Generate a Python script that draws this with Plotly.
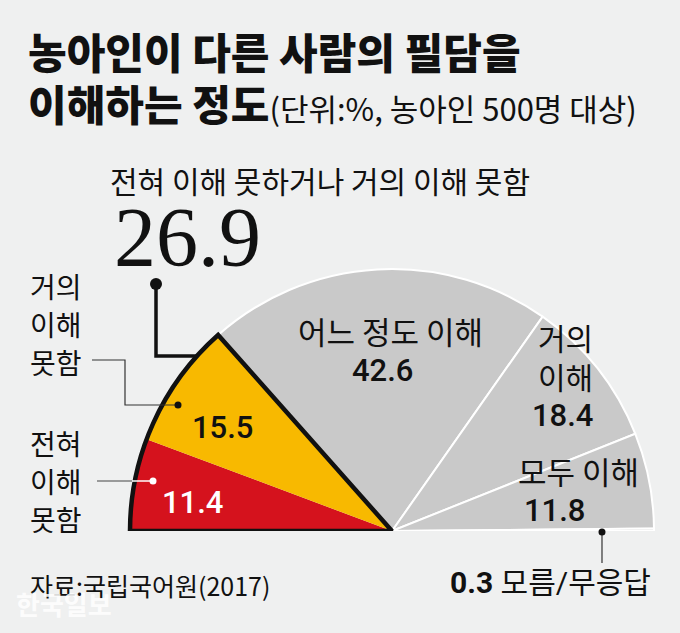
import plotly.graph_objects as go

# ---- data ----
categories = ["전혀 이해 못함", "거의 이해 못함", "어느 정도 이해", "거의 이해", "모두 이해", "모름/무응답"]
values = [11.4, 15.5, 42.6, 18.4, 11.8, 0.3]
group_label = "전혀 이해 못하거나 거의 이해 못함"
group_value = 26.9
title_1 = "농아인이 다른 사람의 필담을"
title_2 = "이해하는 정도"
unit_note = "(단위:%, 농아인 500명 대상)"
source = "자료:국립국어원(2017)"

# ---- style ----
W, H = 680, 633
BG = "#eff0f0"
slice_colors = ["#d5121d", "#f8b900", "#c9c9c9", "#c9c9c9", "#c9c9c9", "#c9c9c9"]
KR = "Noto Sans CJK KR"
NUM = "Roboto, Noto Sans CJK KR"


def px(x, y):
    return x / W, 1 - y / H


# half-pie geometry (percent -> degrees over 180)
scale = 180 / 100.0
starts = []
acc = 0.0
for v in values:
    starts.append(acc)
    acc += v
thetas = [(s + v / 2) * scale for s, v in zip(starts, values)]
widths = [v * scale for v in values]

fig = go.Figure()
for i, (c, v) in enumerate(zip(categories, values)):
    fig.add_trace(go.Barpolar(
        r=[1], theta=[thetas[i]], width=[widths[i]], base=0,
        marker=dict(color=slice_colors[i],
                    line=dict(color="white" if i >= 2 else slice_colors[i], width=2 if i >= 2 else 0)),
        name=c, showlegend=False, hoverinfo="skip",
    ))
# black outline around the combined "not understanding" wedge
grp = values[0] + values[1]
fig.add_trace(go.Barpolar(
    r=[1], theta=[grp * scale / 2], width=[grp * scale], base=0,
    marker=dict(color="rgba(0,0,0,0)", line=dict(color="#111", width=4.5)),
    showlegend=False, hoverinfo="skip",
))

RMAX = 1.02
cx, cy, R = 392, 531, 262
Rd = R * RMAX
d0 = px(cx - Rd, cy)
d1 = px(cx + Rd, cy - Rd)
fig.update_layout(
    width=W, height=H,
    margin=dict(l=0, r=0, t=0, b=0),
    paper_bgcolor=BG, plot_bgcolor=BG,
    showlegend=False,
    polar=dict(
        domain=dict(x=[d0[0], d1[0]], y=[d0[1], d1[1]]),
        sector=[0, 180], hole=0, bgcolor="rgba(0,0,0,0)",
        angularaxis=dict(rotation=180, direction="clockwise", visible=False,
                         showgrid=False, showline=False, showticklabels=False, ticks=""),
        radialaxis=dict(range=[0, RMAX], visible=False, showgrid=False,
                        showline=False, showticklabels=False, ticks=""),
    ),
)

ann = []


def text(t, x, y, size, color="#111", family=KR, xanchor="left", weight="normal"):
    X, Y = px(x, y)
    ann.append(dict(text=t, x=X, y=Y, xref="paper", yref="paper", xanchor=xanchor,
                    yanchor="middle", showarrow=False,
                    font=dict(size=size, color=color, family=family, weight=weight)))


# title
text(title_1, 26, 50, 42, weight=900)
text(f"{title_2}<span style='font-size:31px;font-weight:400'>{unit_note}</span>", 26, 103, 42, weight=900)

# group label
text(group_label, 108, 180, 30)
text(f"{group_value}", 112, 237, 84, family="Liberation Serif, serif")

# left labels
for i, line in enumerate(["거의", "이해", "못함"]):
    text(line, 28, 286 + i * 38, 28)
for i, line in enumerate(["전혀", "이해", "못함"]):
    text(line, 28, 443 + i * 38, 28)

# wedge values
text(f"{values[1]}", 222, 428, 31, family=NUM, xanchor="center", weight=500)
text(f"{values[0]}", 192, 503, 31, color="white", family=NUM, xanchor="center", weight=500)
text(categories[2], 390, 330, 31, xanchor="center")
text(f"{values[2]}", 382, 370, 31, family=NUM, xanchor="center", weight=500)
text("거의", 565, 337, 30, xanchor="center")
text("이해", 565, 376, 30, xanchor="center")
text(f"{values[3]}", 562, 415, 31, family=NUM, xanchor="center", weight=500)
text(categories[4], 516, 470, 31)
text(f"{values[4]}", 522, 510, 31, family=NUM, weight=500)
text(f"<b>{values[5]}</b> {categories[5]}", 653, 582, 30, family=NUM, xanchor="right")

# source + watermark
text(source, 28, 585, 25)
text("<b>한국일보</b>", 14, 603, 26, color="rgba(255,255,255,0.85)")

fig.update_layout(annotations=ann)

# leader lines
shapes = []


def path(points, color, width):
    pts = [px(x, y) for x, y in points]
    d = "M " + " L ".join(f"{a:.5f},{b:.5f}" for a, b in pts)
    shapes.append(dict(type="path", path=d, xref="paper", yref="paper",
                       line=dict(color=color, width=width)))


def dot(x, y, r, color):
    a, b = px(x - r, y + r)
    c, d = px(x + r, y - r)
    shapes.append(dict(type="circle", x0=a, y0=b, x1=c, y1=d, xref="paper", yref="paper",
                       fillcolor=color, line=dict(width=0)))


path([(156, 284), (156, 356), (198, 356)], "#111", 3.5)
dot(156, 284, 6, "#111")
path([(92, 360), (125, 360), (125, 405), (178, 405)], "#333", 1.2)
dot(178, 405, 3.5, "#111")
path([(97, 481), (132, 481)], "#444", 1.2)
path([(132, 481), (153, 481)], "white", 1.5)
dot(153, 481, 3.5, "white")
path([(602, 532), (602, 563)], "#333", 1.2)
dot(602, 532, 3.5, "#111")

fig.update_layout(shapes=shapes)

fig.write_html("out.html", config={"displayModeBar": False},
               post_script="document.body.style.margin='0';document.body.style.background='%s';" % BG)
